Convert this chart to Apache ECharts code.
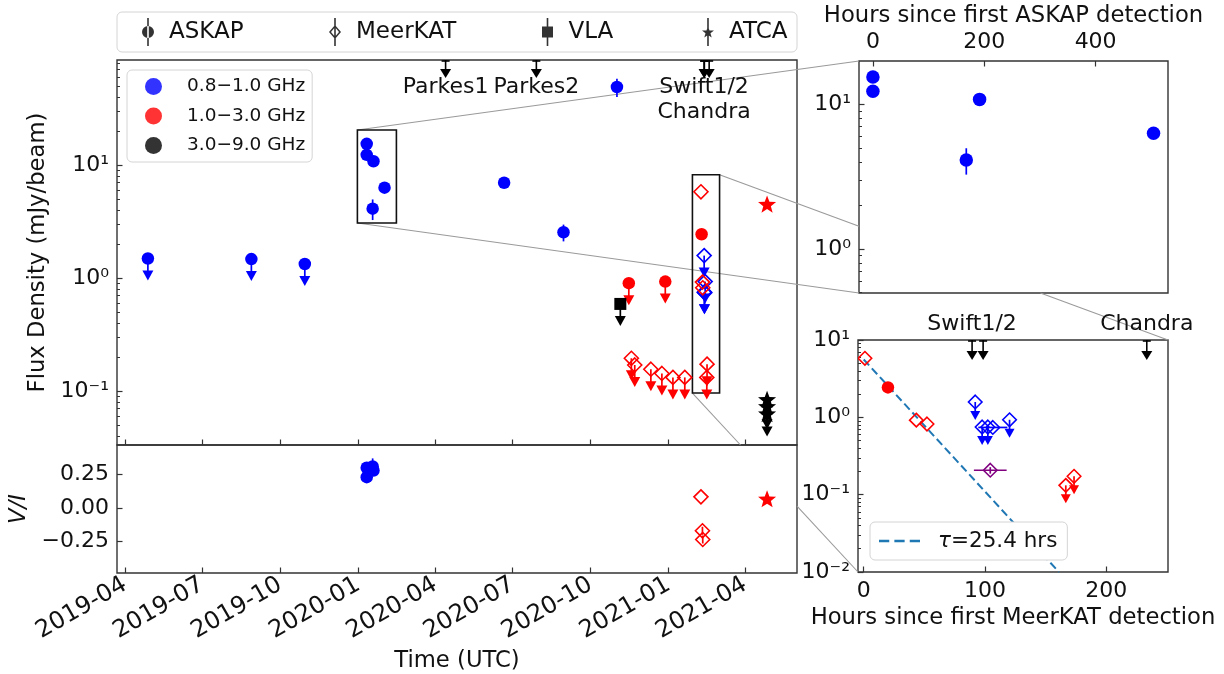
<!DOCTYPE html>
<html><head><meta charset="utf-8">
<script src="https://cdn.jsdelivr.net/npm/echarts@6/dist/echarts.min.js"></script>
<style>html,body{margin:0;padding:0;background:#fff}#c{width:1224px;height:674px}</style>
</head><body><div id="c"></div>
<script>
// ================= DATA =================
const timeRange = ['2019-03-22T14:00:00Z', '2021-06-01T07:00:00Z'];
const quarterTicks = ['2019-04-01','2019-07-01','2019-10-01','2020-01-01','2020-04-01','2020-07-01','2020-10-01','2021-01-01','2021-04-01'];
const mainFluxRange = [0.0333, 85];
const viRange = [-0.485, 0.47];
const viTicks = [-0.25, 0, 0.25];
const ins1HourRange = [-25, 530];
const ins1HourTicks = [0, 200, 400];
const ins1FluxRange = [0.495, 19.9];
const ins2HourRange = [-4.7, 251];
const ins2HourTicks = [0, 100, 200];
const ins2FluxRange = [0.01, 10];

const askapT0 = '2020-01-11';
const meerkatT0 = '2021-02-08';

// ASKAP 0.8-1.0 GHz
const askapLowUlDates = ['2019-04-28','2019-08-28','2019-10-30'];
const askapLowUlFlux = [1.49, 1.47, 1.33];
const askapBurstHours = [0, 0, 167.7, 191.6, 504];
const askapBurstFlux = [15.4, 12.3, 4.11, 10.8, 6.3];
const askapBurstErr = [0, 0, 0.85, 0, 0];
const askapLateDates = ['2020-06-21','2020-08-30','2020-11-01'];
const askapLateFlux = [6.97, 2.54, 49];
const askapLateErr = [0, 0.43, 9];
const askapVIHours = [0, 0, 167.7, 191.6];
const askapVI = [0.30, 0.23, 0.31, 0.28];
const askapVIErr = [0.03, 0.02, 0.06, 0.03];

// ASKAP 1.0-3.0 GHz
const askapMidUlDates = ['2020-11-15','2020-12-28'];
const askapMidUlFlux = [0.90, 0.93];
const askapMidBurstHours = [20];
const askapMidBurstFlux = [2.44];

// VLA 3.0-9.0 GHz
const vlaUlDates = ['2020-11-05'];
const vlaUlFlux = [0.59];

// MeerKAT 1.0-3.0 GHz
const mkLPreUlDates = ['2020-11-18','2020-11-22','2020-12-11','2020-12-24','2021-01-06','2021-01-20'];
const mkLPreUlFlux = [0.195, 0.17, 0.156, 0.143, 0.132, 0.132];
const mkLBurstHours = [1, 43.4, 52.2];
const mkLBurstFlux = [5.8, 0.92, 0.82];
const mkLBurstUlHours = [166.7, 173.5];
const mkLBurstUlFlux = [0.132, 0.173];
const mkLVIHours = [1, 43.4, 52.2];
const mkLVI = [0.083, -0.17, -0.235];
const mkLVIErr = [0, 0.03, 0.03];

// MeerKAT 0.8-1.0 GHz
const mkUUlHours = [92, 97.7, 102.4, 120.3];
const mkUUlFlux = [1.58, 0.75, 0.75, 0.93];
const mkUDetHours = [106.5];
const mkUDetFlux = [0.74];
const mkUDetXerr = [12];

// stacked MeerKAT point (purple)
const mkStackHours = [104.4];
const mkStackFlux = [0.207];
const mkStackXerr = [13.5];
const mkStackErr = [0.02];

// ATCA
const atcaMidDates = ['2021-04-27'];
const atcaMidFlux = [4.43];
const atcaMidVI = [0.062];
const atcaHighUlDates = ['2021-04-27','2021-04-27','2021-04-27'];
const atcaHighUlFlux = [0.083, 0.072, 0.062];

// other telescopes (epochs)
const parkesNames = ['Parkes1', 'Parkes2'];
const parkesDates = ['2020-04-13', '2020-07-29'];
const xrayNames = ['Swift1/2', '', 'Chandra'];
const xrayHours = [89.4, 98.5, 233.5];

// zoom boxes
const askapBoxDates = ['2019-12-31', '2020-02-15'];
const askapBoxFlux = [3.07, 20.4];
const mkBoxDates = ['2021-01-29', '2021-03-02'];
const mkBoxFlux = [0.096, 8.2];

// exponential decay fit (tau = 25.4 hrs), end points
const fitName = 'τ=25.4 hrs';
const fitHours = [0, 161];
const fitFlux = [5.6, 0.01];

// legend entries
const telescopeNames = ['ASKAP', 'MeerKAT', 'VLA', 'ATCA'];
const bandNames = ['0.8−1.0 GHz', '1.0−3.0 GHz', '3.0−9.0 GHz'];

// ================= helpers =================
const FONT = 'DejaVu Sans';
const AX = '#333';
const TXT = '#111';
const BLUE = '#0000ff', RED = '#ff0000', BLACK = '#000000', PURPLE = '#800080';
const LOG = Math.log10;
const ts = d => Date.parse(d.length > 10 ? d : d + 'T00:00:00Z');
const hrsTs = (t0, h) => ts(t0) + h * 3600000;
const SUP = {'-':'⁻','0':'⁰','1':'¹','2':'²','3':'³','4':'⁴','5':'⁵','6':'⁶','7':'⁷','8':'⁸','9':'⁹'};
const logLabel = v => '10' + String(Math.round(v)).split('').map(c => SUP[c]).join('');
const pad2 = n => (n < 10 ? '0' : '') + n;
const fmtDate = v => { const d = new Date(v); return d.getUTCFullYear() + '-' + pad2(d.getUTCMonth() + 1); };
function minorLog(lo, hi) {
  const out = [];
  for (let e = Math.floor(LOG(lo)); e <= Math.ceil(LOG(hi)); e++)
    for (let k = 2; k <= 9; k++) { const v = LOG(k) + e; if (v > LOG(lo) && v < LOG(hi)) out.push(v); }
  return out;
}
// rows: [x, y, yLo, yHi, xLo, xHi, ul]
function fluxRows(xs, fl, err, ul, xerr) {
  return xs.map((x, i) => {
    const f = fl[i], e = err ? err[i] : 0, xe = xerr ? xerr[i] : 0;
    return [x, LOG(f), e ? LOG(f - e) : LOG(f), e ? LOG(f + e) : LOG(f), x - xe, x + xe, ul ? 1 : 0];
  });
}
function linRows(xs, vs, err) {
  return xs.map((x, i) => { const e = err ? err[i] : 0; return [x, vs[i], vs[i] - e, vs[i] + e, x, x, 0]; });
}
function markerShape(kind, p, s, c) {
  const x = p[0], y = p[1], r = s / 2;
  if (kind === 'circle') return {type:'circle', shape:{cx:x, cy:y, r:r}, style:{fill:c}};
  if (kind === 'square') return {type:'rect', shape:{x:x - r, y:y - r, width:s, height:s}, style:{fill:c}};
  if (kind === 'diamond') return {type:'polygon', shape:{points:[[x, y - r], [x + r, y], [x, y + r], [x - r, y]]}, style:{fill:'none', stroke:c, lineWidth:1.6}};
  const pts = [];
  for (let i = 0; i < 10; i++) { const a = -Math.PI / 2 + i * Math.PI / 5, rr = i % 2 ? r * 0.42 : r; pts.push([x + rr * Math.cos(a), y + rr * Math.sin(a)]); }
  return {type:'polygon', shape:{points:pts}, style:{fill:c}};
}
const ARROW_MAIN = {len:22, head:10, w:11};
const ARROW_INS = {len:18, head:9, w:10};
function marks(name, xi, yi, rows, st) {
  return {
    type:'custom', name:name, xAxisIndex:xi, yAxisIndex:yi, clip:true, z:st.z || 3, silent:true,
    data:rows, encode:{x:0, y:1},
    renderItem: function (params, api) {
      const x = api.value(0), y = api.value(1), yLo = api.value(2), yHi = api.value(3), xLo = api.value(4), xHi = api.value(5), ul = api.value(6);
      const p = api.coord([x, y]);
      const c = st.color, lw = st.lw || 1.7, ch = [];
      const seg = (a, b) => ch.push({type:'line', shape:{x1:a[0], y1:a[1], x2:b[0], y2:b[1]}, style:{stroke:c, lineWidth:lw}});
      if (yHi > yLo) seg(api.coord([x, yLo]), api.coord([x, yHi]));
      if (xHi > xLo) seg(api.coord([xLo, y]), api.coord([xHi, y]));
      if (ul) {
        const A = st.arrow, tip = p[1] + A.len, base = tip - A.head;
        seg(p, [p[0], base + 1]);
        ch.push({type:'polygon', shape:{points:[[p[0] - A.w / 2, base], [p[0] + A.w / 2, base], [p[0], tip]]}, style:{fill:c}});
      }
      ch.push(markerShape(st.shape, p, st.size, c));
      return {type:'group', children:ch};
    }
  };
}
function epochArrows(name, xi, yi, xs, labels, yTop, st) {
  return {
    type:'custom', name:name, xAxisIndex:xi, yAxisIndex:yi, clip:false, z:4, silent:true,
    data:xs.map(x => [x, yTop]), encode:{x:0, y:1},
    renderItem: function (params, api) {
      const p = api.coord([api.value(0), api.value(1)]);
      const x = p[0], top = p[1], tip = top + st.len, base = tip - st.head;
      const ch = [
        {type:'line', shape:{x1:x - 4, y1:top + 1, x2:x + 4, y2:top + 1}, style:{stroke:'#000', lineWidth:1.6}},
        {type:'line', shape:{x1:x, y1:top, x2:x, y2:base + 1}, style:{stroke:'#000', lineWidth:1.6}},
        {type:'polygon', shape:{points:[[x - st.w / 2, base], [x + st.w / 2, base], [x, tip]]}, style:{fill:'#000'}}
      ];
      const t = labels[params.dataIndex];
      if (t) ch.push({type:'text', style:{text:t, x:x, y:top + st.textDy, align:'center', verticalAlign:st.vAlign, font:'22px "DejaVu Sans"', lineHeight:25, fill:TXT}});
      return {type:'group', children:ch};
    }
  };
}
function boxSeries(name, dates, flux) {
  return {
    type:'custom', name:name, xAxisIndex:0, yAxisIndex:0, clip:true, z:2, silent:true,
    data:[[ts(dates[0]), LOG(flux[0]), ts(dates[1]), LOG(flux[1])]], encode:{x:[0, 2], y:[1, 3]},
    renderItem: function (params, api) {
      const a = api.coord([api.value(0), api.value(1)]), b = api.coord([api.value(2), api.value(3)]);
      return {type:'rect', shape:{x:Math.min(a[0], b[0]), y:Math.min(a[1], b[1]), width:Math.abs(b[0] - a[0]), height:Math.abs(b[1] - a[1])}, style:{fill:'none', stroke:'#111', lineWidth:1.6}};
    }
  };
}
const dummy = (name, color) => ({type:'scatter', name:name, xAxisIndex:0, yAxisIndex:0, data:[], itemStyle:{color:color}});

// legend icons (12 x 28 boxes)
const LINE = 'M5.2,0 L6.8,0 L6.8,28 L5.2,28 Z';
const ICON_CIRCLE = 'path://M0,14 A6,6 0 1,0 12,14 A6,6 0 1,0 0,14 Z ' + LINE;
const ICON_DIAMOND = 'path://M6,7 L12,14 L6,21 L0,14 Z M6,9.2 L2,14 L6,18.8 L10,14 Z ' + LINE;
const ICON_SQUARE = 'path://M0.5,8.5 L11.5,8.5 L11.5,19.5 L0.5,19.5 Z ' + LINE;
let starP = 'path://';
for (let i = 0; i < 10; i++) { const a = -Math.PI / 2 + i * Math.PI / 5, rr = i % 2 ? 2.6 : 6.3; starP += (i ? 'L' : 'M') + (6 + rr * Math.cos(a)).toFixed(2) + ',' + (14.5 + rr * Math.sin(a)).toFixed(2) + ' '; }
const ICON_STAR = starP + 'Z ' + LINE;
const telescopeIcons = [ICON_CIRCLE, ICON_DIAMOND, ICON_SQUARE, ICON_STAR];
const ICON_DASH = 'path://M0,0 L10,0 L10,2.4 L0,2.4 Z M15,0 L25,0 L25,2.4 L15,2.4 Z M30,0 L40,0 L40,2.4 L30,2.4 Z';

// ================= layout =================
const G = {
  main:{left:117, top:60, width:680, height:385},
  vi:{left:117, top:445, width:680, height:128},
  ins1:{left:859, top:61, width:309, height:232},
  ins2:{left:858, top:340, width:310, height:232}
};
const TOP_LEGEND_BOX = {x:117, y:12, width:680, height:40};
const TOP_LEGEND_LEFT = [142, 329, 542, 702];
const gridOf = (g, bg) => Object.assign({show:true, borderColor:AX, borderWidth:1.4, backgroundColor:bg, containLabel:false, outerBoundsMode:'none'}, g);
const tickStyle = {color:AX, width:1.2};
const labStyle = {fontSize:22, fontFamily:FONT, color:TXT};
const nameStyle = {fontSize:22.7, fontFamily:FONT, color:TXT};
const majorY = (gi, lo, hi, ticks, fmt, extra) => Object.assign({
  type:'value', gridIndex:gi, position:'left', min:lo, max:hi,
  axisLine:{show:false, onZero:false}, splitLine:{show:false},
  axisTick:{inside:true, length:5.5, lineStyle:tickStyle, customValues:ticks},
  axisLabel:Object.assign({customValues:ticks, formatter:fmt, margin:8}, labStyle)
}, extra || {});
const minorY = (gi, lo, hi, ticks) => ({
  type:'value', gridIndex:gi, position:'left', min:lo, max:hi,
  axisLine:{show:false, onZero:false}, splitLine:{show:false},
  axisTick:{inside:true, length:3, lineStyle:{color:AX, width:1}, customValues:ticks},
  axisLabel:{show:false}
});

const tMin = ts(timeRange[0]), tMax = ts(timeRange[1]);
const qTicks = quarterTicks.map(ts);
const mainLo = LOG(mainFluxRange[0]), mainHi = LOG(mainFluxRange[1]);
const i1Lo = LOG(ins1FluxRange[0]), i1Hi = LOG(ins1FluxRange[1]);
const i2Lo = LOG(ins2FluxRange[0]), i2Hi = LOG(ins2FluxRange[1]);

const series = [
  // main panel
  boxSeries('askapBox', askapBoxDates, askapBoxFlux),
  boxSeries('mkBox', mkBoxDates, mkBoxFlux),
  marks('askapLowUl', 0, 0, fluxRows(askapLowUlDates.map(ts), askapLowUlFlux, null, true), {color:BLUE, shape:'circle', size:12.5, arrow:ARROW_MAIN}),
  marks('askapLowBurst', 0, 0, fluxRows(askapBurstHours.map(h => hrsTs(askapT0, h)), askapBurstFlux, askapBurstErr), {color:BLUE, shape:'circle', size:12.5}),
  marks('askapLowLate', 0, 0, fluxRows(askapLateDates.map(ts), askapLateFlux, askapLateErr), {color:BLUE, shape:'circle', size:12.5}),
  marks('askapMidUl', 0, 0, fluxRows(askapMidUlDates.map(ts), askapMidUlFlux, null, true), {color:RED, shape:'circle', size:12.5, arrow:ARROW_MAIN}),
  marks('askapMidBurst', 0, 0, fluxRows(askapMidBurstHours.map(h => hrsTs(meerkatT0, h)), askapMidBurstFlux), {color:RED, shape:'circle', size:12.5}),
  marks('vlaUl', 0, 0, fluxRows(vlaUlDates.map(ts), vlaUlFlux, null, true), {color:BLACK, shape:'square', size:12, arrow:ARROW_MAIN}),
  marks('mkLPreUl', 0, 0, fluxRows(mkLPreUlDates.map(ts), mkLPreUlFlux, null, true), {color:RED, shape:'diamond', size:14, arrow:ARROW_MAIN}),
  marks('mkUUl', 0, 0, fluxRows(mkUUlHours.map(h => hrsTs(meerkatT0, h)), mkUUlFlux, null, true), {color:BLUE, shape:'diamond', size:14, arrow:ARROW_MAIN}),
  marks('mkUDet', 0, 0, fluxRows(mkUDetHours.map(h => hrsTs(meerkatT0, h)), mkUDetFlux), {color:BLUE, shape:'diamond', size:14}),
  marks('mkLBurst', 0, 0, fluxRows(mkLBurstHours.map(h => hrsTs(meerkatT0, h)), mkLBurstFlux), {color:RED, shape:'diamond', size:14}),
  marks('mkLBurstUl', 0, 0, fluxRows(mkLBurstUlHours.map(h => hrsTs(meerkatT0, h)), mkLBurstUlFlux, null, true), {color:RED, shape:'diamond', size:14, arrow:ARROW_MAIN}),
  marks('atcaMid', 0, 0, fluxRows(atcaMidDates.map(ts), atcaMidFlux), {color:RED, shape:'star', size:19}),
  marks('atcaHighUl', 0, 0, fluxRows(atcaHighUlDates.map(ts), atcaHighUlFlux, null, true), {color:BLACK, shape:'star', size:19, arrow:ARROW_MAIN}),
  epochArrows('parkes', 0, 0, parkesDates.map(ts), parkesNames, mainHi, {len:18, head:9, w:11, textDy:14.5, vAlign:'top'}),
  epochArrows('xrayMain', 0, 0, xrayHours.map(h => hrsTs(meerkatT0, h)), ['Swift1/2\nChandra', '', ''], mainHi, {len:18, head:9, w:11, textDy:14.5, vAlign:'top'}),
  // V/I panel
  marks('askapVI', 1, 2, linRows(askapVIHours.map(h => hrsTs(askapT0, h)), askapVI, askapVIErr), {color:BLUE, shape:'circle', size:12.5}),
  marks('mkLVI', 1, 2, linRows(mkLVIHours.map(h => hrsTs(meerkatT0, h)), mkLVI, mkLVIErr), {color:RED, shape:'diamond', size:14}),
  marks('atcaVI', 1, 2, linRows(atcaMidDates.map(ts), atcaMidVI), {color:RED, shape:'star', size:19}),
  // ASKAP inset
  marks('ins1Burst', 2, 3, fluxRows(askapBurstHours, askapBurstFlux, askapBurstErr), {color:BLUE, shape:'circle', size:13.5}),
  // MeerKAT inset
  {type:'line', name:fitName, xAxisIndex:3, yAxisIndex:5, data:fitHours.map((h, i) => [h, LOG(fitFlux[i])]), symbol:'none', clip:true, z:2, silent:true,
   lineStyle:{color:'#1f77b4', width:2, type:[8, 4]}, itemStyle:{color:'#1f77b4'}},
  marks('ins2LBurst', 3, 5, fluxRows(mkLBurstHours, mkLBurstFlux), {color:RED, shape:'diamond', size:13.5}),
  marks('ins2MidBurst', 3, 5, fluxRows(askapMidBurstHours, askapMidBurstFlux), {color:RED, shape:'circle', size:12.5}),
  marks('ins2LUl', 3, 5, fluxRows(mkLBurstUlHours, mkLBurstUlFlux, null, true), {color:RED, shape:'diamond', size:13.5, arrow:ARROW_INS}),
  marks('ins2UUl', 3, 5, fluxRows(mkUUlHours, mkUUlFlux, null, true), {color:BLUE, shape:'diamond', size:13.5, arrow:ARROW_INS}),
  marks('ins2UDet', 3, 5, fluxRows(mkUDetHours, mkUDetFlux, null, false, mkUDetXerr), {color:BLUE, shape:'diamond', size:13.5}),
  marks('ins2Stack', 3, 5, fluxRows(mkStackHours, mkStackFlux, mkStackErr, false, mkStackXerr), {color:PURPLE, shape:'diamond', size:13.5}),
  epochArrows('xrayIns', 3, 5, xrayHours, xrayNames, i2Hi, {len:20, head:9, w:11, textDy:-16, vAlign:'middle'}),
  // legend-only series
  ...telescopeNames.map(n => dummy(n, BLACK)),
  dummy(bandNames[0], BLUE), dummy(bandNames[1], RED), dummy(bandNames[2], BLACK)
];

const telescopeLegends = telescopeNames.map((n, i) => ({
  data:[{name:n, icon:telescopeIcons[i]}], left:TOP_LEGEND_LEFT[i], top:18, orient:'horizontal',
  itemWidth:12, itemHeight:28, padding:0, selectedMode:false, z:5,
  formatter:nm => '{a|' + nm + '}', textStyle:{rich:{a:{fontSize:23, fontFamily:FONT, color:TXT, padding:[0, 0, 0, 10]}}}
}));

const option = {
  animation:false,
  textStyle:{fontFamily:FONT},
  grid:[gridOf(G.main, 'transparent'), gridOf(G.vi, 'transparent'), gridOf(G.ins1, '#fff'), gridOf(G.ins2, '#fff')],
  xAxis:[
    {type:'value', gridIndex:0, min:tMin, max:tMax, axisLine:{show:false, onZero:false}, splitLine:{show:false},
     axisTick:{inside:true, length:5.5, lineStyle:tickStyle, customValues:qTicks}, axisLabel:{show:false}},
    {type:'value', gridIndex:1, min:tMin, max:tMax, axisLine:{show:false, onZero:false}, splitLine:{show:false},
     axisTick:{inside:true, length:5.5, lineStyle:tickStyle, customValues:qTicks},
     axisLabel:Object.assign({customValues:qTicks, rotate:30, margin:10, formatter:fmtDate, hideOverlap:false}, labStyle, {fontSize:24}),
     name:'Time (UTC)', nameLocation:'middle', nameGap:77, nameTextStyle:nameStyle},
    {type:'value', gridIndex:2, position:'top', min:ins1HourRange[0], max:ins1HourRange[1], axisLine:{show:false, onZero:false}, splitLine:{show:false},
     axisTick:{inside:true, length:5.5, lineStyle:tickStyle, customValues:ins1HourTicks},
     axisLabel:Object.assign({customValues:ins1HourTicks, margin:8}, labStyle),
     name:'Hours since first ASKAP detection', nameLocation:'middle', nameGap:33, nameTextStyle:nameStyle},
    {type:'value', gridIndex:3, position:'bottom', min:ins2HourRange[0], max:ins2HourRange[1], axisLine:{show:false, onZero:false}, splitLine:{show:false},
     axisTick:{inside:true, length:5.5, lineStyle:tickStyle, customValues:ins2HourTicks},
     axisLabel:Object.assign({customValues:ins2HourTicks, margin:8}, labStyle),
     name:'Hours since first MeerKAT detection', nameLocation:'middle', nameGap:35, nameTextStyle:nameStyle}
  ],
  yAxis:[
    majorY(0, mainLo, mainHi, [-1, 0, 1], logLabel, {name:'Flux Density (mJy/beam)', nameLocation:'middle', nameRotate:90, nameGap:67, nameTextStyle:nameStyle}),
    minorY(0, mainLo, mainHi, minorLog(mainFluxRange[0], mainFluxRange[1])),
    majorY(1, viRange[0], viRange[1], viTicks, v => (v < 0 ? '−' : '') + Math.abs(v).toFixed(2), {name:'V/I', nameLocation:'middle', nameRotate:90, nameGap:75, nameTextStyle:Object.assign({}, nameStyle, {fontStyle:'italic'})}),
    majorY(2, i1Lo, i1Hi, [0, 1], logLabel),
    minorY(2, i1Lo, i1Hi, minorLog(ins1FluxRange[0], ins1FluxRange[1])),
    majorY(3, i2Lo, i2Hi, [-2, -1, 0, 1], logLabel),
    minorY(3, i2Lo, i2Hi, minorLog(ins2FluxRange[0], ins2FluxRange[1]))
  ],
  legend:telescopeLegends.concat([
    {data:bandNames, icon:'circle',
     left:127, top:70, orient:'vertical', itemWidth:17, itemHeight:17, itemGap:10.5, padding:[7, 7, 7, 18],
     backgroundColor:'#fff', borderColor:'#d4d4d4', borderWidth:1, borderRadius:5, selectedMode:false,
     formatter:n => '{a|' + n + '}', textStyle:{rich:{a:{fontSize:18.5, fontFamily:FONT, color:TXT, padding:[0, 0, 0, 20]}}}},
    {data:[{name:fitName, icon:ICON_DASH}], left:870, top:522, itemWidth:41, itemHeight:14, padding:[8, 10, 8, 9],
     backgroundColor:'#fff', borderColor:'#d4d4d4', borderWidth:1, borderRadius:5, selectedMode:false,
     formatter:() => '{i|τ}{t|=25.4 hrs}',
     textStyle:{rich:{i:{fontSize:21.5, fontFamily:FONT, fontStyle:'italic', color:TXT, padding:[0, 0, 0, 13]}, t:{fontSize:21.5, fontFamily:FONT, color:TXT}}}}
  ]),
  series:series
};

const chart = echarts.init(document.getElementById('c'), null, {renderer:'canvas'});
chart.setOption(option);

// ---- connector lines from the zoom boxes to the insets (hidden behind opaque panels) ----
const px = (xi, yi, v) => chart.convertToPixel({xAxisIndex:xi, yAxisIndex:yi}, v);
const aUL = px(0, 0, [ts(askapBoxDates[0]), LOG(askapBoxFlux[1])]);
const aLL = px(0, 0, [ts(askapBoxDates[0]), LOG(askapBoxFlux[0])]);
const mUR = px(0, 0, [ts(mkBoxDates[1]), LOG(mkBoxFlux[1])]);
const mLL = px(0, 0, [ts(mkBoxDates[0]), LOG(mkBoxFlux[0])]);
const i1UL = px(2, 3, [ins1HourRange[0], i1Hi]);
const i1LL = px(2, 3, [ins1HourRange[0], i1Lo]);
const i2UR = px(3, 5, [ins2HourRange[1], i2Hi]);
const i2LL = px(3, 5, [ins2HourRange[0], i2Lo]);
function inside(a, b, r) {
  let t0 = 0, t1 = 1; const dx = b[0] - a[0], dy = b[1] - a[1];
  const ps = [-dx, dx, -dy, dy], qs = [a[0] - r.left, r.left + r.width - a[0], a[1] - r.top, r.top + r.height - a[1]];
  for (let i = 0; i < 4; i++) {
    if (ps[i] === 0) { if (qs[i] < 0) return null; }
    else { const t = qs[i] / ps[i]; if (ps[i] < 0) { if (t > t1) return null; if (t > t0) t0 = t; } else { if (t < t0) return null; if (t < t1) t1 = t; } }
  }
  return t1 > t0 ? [t0, t1] : null;
}
const obstacles = [G.vi, G.ins1, G.ins2];
const graphics = [{type:'rect', z:0, silent:true, shape:Object.assign({r:5}, TOP_LEGEND_BOX), style:{fill:'#fff', stroke:'#d4d4d4', lineWidth:1}}];
[[aUL, i1UL], [aLL, i1LL], [mUR, i2UR], [mLL, i2LL]].forEach(([a, b]) => {
  let pieces = [[0, 1]];
  obstacles.forEach(r => {
    const iv = inside(a, b, r); if (!iv) return;
    const np = [];
    pieces.forEach(([s, e]) => { if (iv[1] <= s || iv[0] >= e) np.push([s, e]); else { if (iv[0] > s) np.push([s, iv[0]]); if (iv[1] < e) np.push([iv[1], e]); } });
    pieces = np;
  });
  pieces.forEach(([s, e]) => {
    if (e - s < 1e-3) return;
    graphics.push({type:'line', z:1, silent:true,
      shape:{x1:a[0] + (b[0] - a[0]) * s, y1:a[1] + (b[1] - a[1]) * s, x2:a[0] + (b[0] - a[0]) * e, y2:a[1] + (b[1] - a[1]) * e},
      style:{stroke:'#9a9a9a', lineWidth:1.1}});
  });
});
chart.setOption({graphic:graphics});
</script></body></html>
